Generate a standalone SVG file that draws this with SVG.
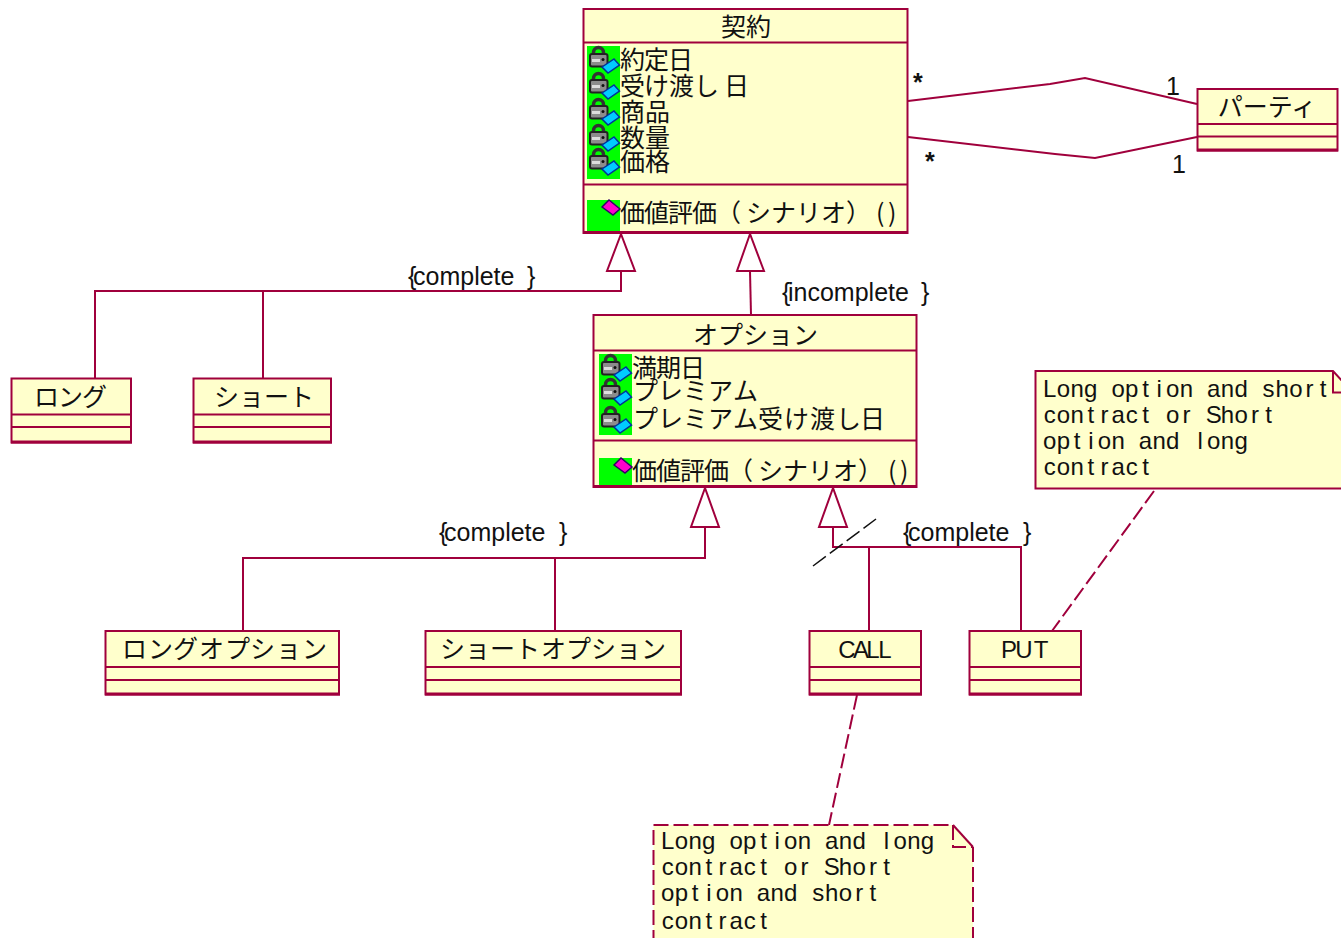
<svg xmlns="http://www.w3.org/2000/svg" xmlns:xlink="http://www.w3.org/1999/xlink" width="1341" height="938" viewBox="0 0 1341 938">
<style>
.b{fill:#FFFFCC;stroke:#A0003C;stroke-width:2}
.e{fill:none;stroke:#A0003C;stroke-width:3}
.d{fill:none;stroke:#A0003C;stroke-width:2}
.l{fill:none;stroke:#A0003C;stroke-width:2}
.h{fill:none;stroke:#A0003C;stroke-width:2;stroke-dasharray:15 5}
.t{fill:#fff;stroke:#A0003C;stroke-width:2}
text{font-family:"Noto Sans CJK JP","Liberation Sans",sans-serif;font-size:25px;fill:#111}
.c{text-anchor:middle}
.m{font-family:"Liberation Sans",sans-serif;font-size:24px;text-anchor:middle}
.s{font-family:"Liberation Sans",sans-serif;font-size:25px}
.st{font-weight:bold}
.g{fill:#00FF00}
</style>
<defs>
<g id="attr">
<path d="M6.500 9V6.500a5 5 0 0 1 10 0V9" fill="none" stroke="#333" stroke-width="3.500"/>
<rect x="3" y="8" width="17.500" height="12.500" rx="2" fill="#8c8c8c" stroke="#222" stroke-width="2"/>
<rect x="5" y="13" width="8" height="3" fill="#ddd"/>
<circle cx="16" cy="13.500" r="1.500" fill="#111"/>
<polygon points="15,21 27,13 32.500,19 21,27" fill="#00CCFF" stroke="#003399" stroke-width="1.500"/>
</g>
<g id="oper">
<polygon points="15,7 22,0 33,9 26,15" fill="#FF00CC" stroke="#330066" stroke-width="1.500"/>
</g>
</defs>
<g id="connectors">
<polygon class="t" points="621,234 607,271 635,271"/>
<path class="l" d="M621 271V291H95V378M263 291V378"/>
<polygon class="t" points="750,234 737,271 764,271"/>
<path class="l" d="M750 271L751 315"/>
<polygon class="t" points="705,488 691,527 719,527"/>
<path class="l" d="M705 527V558H243V631M555 558V631"/>
<polygon class="t" points="833,488 819,527 847,527"/>
<path class="l" d="M833 527V547H1021V631M869 547V631"/>
<path d="M813 566L876 519" fill="none" stroke="#111" stroke-width="1.500" stroke-dasharray="16 5"/>
<path class="l" d="M908 101L1050 84L1085 78L1197 104"/>
<path class="l" d="M908 137L1055 154L1095 158L1197 137"/>
<path class="h" d="M1154 491L1052 631"/>
<path class="h" d="M857 695L829 825"/>
<text class="s st" x="913" y="91">*</text>
<text class="s" x="1166" y="95">1</text>
<text class="s st" x="925" y="170">*</text>
<text class="s" x="1172" y="173">1</text>
<text class="s" y="285" x="408 413">{complete<tspan x="527">}</tspan></text>
<text class="s" y="301" x="782 788">{incomplete<tspan x="921">}</tspan></text>
<text class="s" y="541" x="439 444">{complete<tspan x="559">}</tspan></text>
<text class="s" y="541" x="903 908">{complete<tspan x="1023">}</tspan></text>
</g>
<g id="contract">
<rect class="b" x="583.500" y="9" width="324" height="224"/>
<path class="d" d="M583 42.500H908M583 184.500H908"/>
<path class="e" d="M583 232.500H908"/>
<text class="c" x="746" y="36">契約</text>
<rect class="g" x="587" y="46" width="33" height="133"/>
<use xlink:href="#attr" href="#attr" x="587" y="46"/><use xlink:href="#attr" href="#attr" x="587" y="72"/><use xlink:href="#attr" href="#attr" x="587" y="98"/><use xlink:href="#attr" href="#attr" x="587" y="124"/><use xlink:href="#attr" href="#attr" x="587" y="148"/>
<text x="620 644 668" y="69">約定日</text>
<text x="620 644 669 694 724" y="95">受け渡し日</text>
<text x="620 645" y="121">商品</text>
<text x="620 645" y="147">数量</text>
<text x="620 645" y="171">価格</text>
<rect class="g" x="587" y="200" width="33" height="31"/>
<use xlink:href="#oper" href="#oper" x="587" y="200"/>
<text x="620 644 668 692 716 746 771 796 821 846 876 888" y="222">価値評価（シナリオ）()</text>
</g>
<g id="option">
<rect class="b" x="593.500" y="315" width="323" height="172"/>
<path class="d" d="M593 350.500H917M593 440.500H917"/>
<path class="e" d="M593 486.500H917"/>
<text x="693 718 743 768 793" y="344">オプション</text>
<rect class="g" x="599" y="354" width="33" height="81"/>
<use xlink:href="#attr" href="#attr" x="599" y="354"/><use xlink:href="#attr" href="#attr" x="599" y="378"/><use xlink:href="#attr" href="#attr" x="599" y="406"/>
<text x="632 656 680" y="377">満期日</text>
<text x="633 658 683 708 733" y="400">プレミアム</text>
<text x="633 658 683 708 733 758 784 810 836 860" y="428">プレミアム受け渡し日</text>
<rect class="g" x="599" y="458" width="33" height="27"/>
<use xlink:href="#oper" href="#oper" x="599" y="458"/>
<text x="632 656 680 704 728 758 783 808 833 858 888 900" y="480">価値評価（シナリオ）()</text>
</g>
<g id="party">
<rect class="b" x="1197.500" y="89" width="140" height="61.500"/>
<path class="d" d="M1197 124H1338M1197 136.500H1338"/><path class="e" d="M1197 150H1338"/>
<text class="c" x="1267" y="116">パーティ</text>
</g>
<g id="long">
<rect class="b" x="11.500" y="378.500" width="119.500" height="64"/>
<path class="d" d="M11 414.500H132M11 427H132"/><path class="e" d="M11 442H132"/>
<text x="34 58 82" y="406">ロング</text>
</g>
<g id="short">
<rect class="b" x="193.500" y="378.500" width="137.500" height="64"/>
<path class="d" d="M193 414.500H332M193 427H332"/><path class="e" d="M193 442H332"/>
<text x="214 239 264 289" y="406">ショート</text>
</g>
<g id="long-option">
<rect class="b" x="105.500" y="631" width="233.500" height="63.500"/>
<path class="d" d="M105 667H340M105 680H340"/><path class="e" d="M105 694H340"/>
<text x="122 148 173 199 225 250 276 302" y="658">ロングオプション</text>
</g>
<g id="short-option">
<rect class="b" x="425.500" y="631" width="255.500" height="63.500"/>
<path class="d" d="M425 667H682M425 680H682"/><path class="e" d="M425 694H682"/>
<text x="440 465 490 515 541 566 591 616 641" y="658">ショートオプション</text>
</g>
<g id="call">
<rect class="b" x="809.500" y="631" width="111.500" height="63.500"/>
<path class="d" d="M809 667H922M809 680H922"/><path class="e" d="M809 694H922"/>
<text class="m" x="847 861 873 885" y="658">CALL</text>
</g>
<g id="put">
<rect class="b" x="969.500" y="631" width="111.500" height="63.500"/>
<path class="d" d="M969 667H1082M969 680H1082"/><path class="e" d="M969 694H1082"/>
<text class="m" x="1009 1024 1041" y="658">PUT</text>
</g>
<g id="note-put">
<path class="b" d="M1035.500 371H1333L1345 384V488.500H1035.500Z"/>
<path class="d" d="M1333 371V392.500H1345"/>
<text class="m" y="397" x="1049.800 1063.500 1077.100 1090.800 1104.500 1118.200 1131.800 1145.500 1159.200 1172.800 1186.500 1200.200 1213.800 1227.500 1241.200 1254.900 1268.500 1282.200 1295.900 1309.500 1323.200">Long option and short</text>
<text class="m" y="423" x="1049.800 1063.500 1077.100 1090.800 1104.500 1118.200 1131.800 1145.500 1159.200 1172.800 1186.500 1200.200 1213.800 1227.500 1241.200 1254.900 1268.500 1282.200 1295.900 1309.500 1323.200">contract or Short</text>
<text class="m" y="449" x="1049.800 1063.500 1077.100 1090.800 1104.500 1118.200 1131.800 1145.500 1159.200 1172.800 1186.500 1200.200 1213.800 1227.500 1241.200 1254.900 1268.500 1282.200 1295.900 1309.500 1323.200">option and long</text>
<text class="m" y="475" x="1049.800 1063.500 1077.100 1090.800 1104.500 1118.200 1131.800 1145.500 1159.200 1172.800 1186.500 1200.200 1213.800 1227.500 1241.200 1254.900 1268.500 1282.200 1295.900 1309.500 1323.200">contract</text>
</g>
<g id="note-call">
<path d="M653.500 825H953L973 847V945H653.500Z" fill="#FFFFCC"/>
<path class="h" d="M653.500 945V825H953"/>
<path class="d" d="M953 825L973 847"/>
<path class="h" d="M953 825V847H973"/>
<path class="h" d="M973 847V945"/>
<text class="m" y="849" x="667.800 681.500 695.100 708.800 722.500 736.200 749.800 763.500 777.200 790.800 804.500 818.200 831.800 845.500 859.200 872.900 886.500 900.200 913.900 927.500 941.200">Long option and long</text>
<text class="m" y="875" x="667.800 681.500 695.100 708.800 722.500 736.200 749.800 763.500 777.200 790.800 804.500 818.200 831.800 845.500 859.200 872.900 886.500 900.200 913.900 927.500 941.200">contract or Short</text>
<text class="m" y="901" x="667.800 681.500 695.100 708.800 722.500 736.200 749.800 763.500 777.200 790.800 804.500 818.200 831.800 845.500 859.200 872.900 886.500 900.200 913.900 927.500 941.200">option and short</text>
<text class="m" y="929" x="667.800 681.500 695.100 708.800 722.500 736.200 749.800 763.500 777.200 790.800 804.500 818.200 831.800 845.500 859.200 872.900 886.500 900.200 913.900 927.500 941.200">contract</text>
</g>
</svg>
